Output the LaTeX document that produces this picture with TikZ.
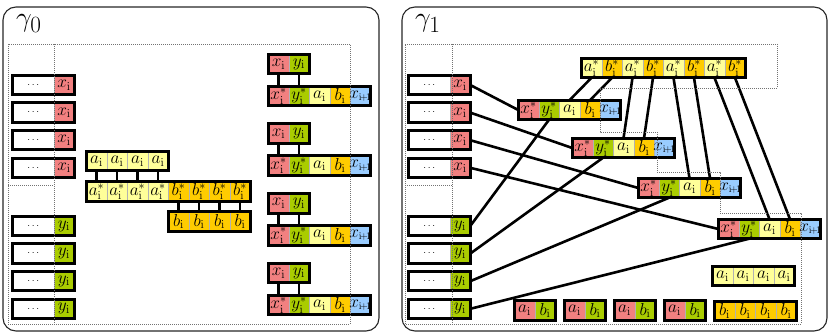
\documentclass[tikz,border=0pt]{standalone}
\usetikzlibrary{positioning,fit}

\definecolor{xred}{RGB}{242,128,128}
\definecolor{ygreen}{RGB}{170,204,0}
\definecolor{ayellow}{RGB}{255,255,153}
\definecolor{borange}{RGB}{255,204,0}
\definecolor{xblue}{RGB}{153,204,255}

\newcommand{\xlab}{$x_{\mathrm{i}}$}
\newcommand{\ylab}{$y_{\mathrm{i}}$}
\newcommand{\alab}{$a_{\mathrm{i}}$}
\newcommand{\blab}{$b_{\mathrm{i}}$}
\newcommand{\xstar}{$x^{*}_{\mathrm{i}}$}
\newcommand{\ystar}{$y^{*}_{\mathrm{i}}$}
\newcommand{\astar}{$a^{*}_{\mathrm{i}}$}
\newcommand{\bstar}{$b^{*}_{\mathrm{i}}$}
\newcommand{\xnext}{$\!x_{\scriptscriptstyle\mathrm{i}\!+\!1}\!$}

\begin{document}
\begin{tikzpicture}[
    x=1pt,y=-1pt,
    panel/.style={draw=black!85,line width=1.1pt,rounded corners=13pt},
    region/.style={draw=black!55,line width=0.7pt,dash pattern=on 1pt off 1pt},
    cell/.style={draw=black!30,line width=0.4pt,minimum width=20.5pt,
      minimum height=19.5pt,inner sep=0pt,outer sep=0pt,
      font=\LARGE},
    dotcell/.style={cell,fill=white,minimum width=41pt,font=\normalsize},
    frame/.style={draw,line width=3pt,inner sep=0pt},
    strut/.style={line width=2.8pt},
    wire/.style={line width=2.6pt},
    tag/.style={font=\Huge,scale=1.12,transform shape,inner sep=0pt,anchor=base west}
]
\useasboundingbox (0,0) rectangle (830,336);

\draw[panel] (3,7) rectangle (379,331);
\draw[panel] (402,7) rectangle (827,331);
\node[tag] (g0) at (16,27) {$\gamma_0$};
\node[tag] (g1) at (415,27) {$\gamma_1$};

% input columns of both panels
\foreach \p/\ox in {l/0,r/396} {
  \foreach \i in {1,...,4} {
    \pgfmathsetmacro\yx{85+27.6*(\i-1)}
    \pgfmathsetmacro\yy{226+27.6*(\i-1)}
    \node[dotcell] (\p xd\i) at (33.25+\ox,\yx) {$\cdots$};
    \node[cell,fill=xred,right=0pt of \p xd\i] (\p x\i) {\xlab};
    \node[frame,fit=(\p xd\i)(\p x\i)] {};
    \node[dotcell] (\p yd\i) at (33.25+\ox,\yy) {$\cdots$};
    \node[cell,fill=ygreen,right=0pt of \p yd\i] (\p y\i) {\ylab};
    \node[frame,fit=(\p yd\i)(\p y\i)] {};
  }
}

% gamma_0: a / a* b* / b stack
\foreach \j in {1,...,4} {
  \node[cell,fill=ayellow] (la\j) at (96.5+20.5*\j-20.5,161) {\alab};
  \node[cell,fill=ayellow] (lsa\j) at (96.5+20.5*\j-20.5,191.5) {\astar};
  \node[cell,fill=borange] (lsb\j) at (178.5+20.5*\j-20.5,191.5) {\bstar};
  \node[cell,fill=borange] (lb\j) at (178.5+20.5*\j-20.5,221.5) {\blab};
  \draw[strut] (la\j.south) -- (lsa\j.north);
  \draw[strut] (lsb\j.south) -- (lb\j.north);
}
\node[frame,fit=(la1)(la4)] {};
\node[frame,fit=(lsa1)(lsb4)] {};
\node[frame,fit=(lb1)(lb4)] {};

% gamma_0: x y pairs over result rows
\foreach \k in {1,...,4} {
  \pgfmathsetmacro\yt{64+69.7*(\k-1)}
  \pgfmathsetmacro\yr{96+69.7*(\k-1)}
  \node[cell,fill=xred] (lpx\k) at (278.5,\yt) {\xlab};
  \node[cell,fill=ygreen,right=0pt of lpx\k] (lpy\k) {\ylab};
  \node[cell,fill=xred] (lqx\k) at (278.5,\yr) {\xstar};
  \node[cell,fill=ygreen,right=0pt of lqx\k] (lqy\k) {\ystar};
  \node[cell,fill=ayellow,right=0pt of lqy\k] (lqa\k) {\alab};
  \node[cell,fill=borange,right=0pt of lqa\k] (lqb\k) {\blab};
  \node[cell,fill=xblue,right=0pt of lqb\k] (lqn\k) {\xnext};
  \draw[strut] (lpx\k.south) -- (lqx\k.north);
  \draw[strut] (lpy\k.south) -- (lqy\k.north);
  \node[frame,fit=(lpx\k)(lpy\k)] {};
  \node[frame,fit=(lqx\k)(lqn\k)] {};
}

% gamma_1: star row
\foreach \j in {1,...,4} {
  \node[cell,fill=ayellow] (rsa\j) at (591.5+41*\j-41,68) {\astar};
  \node[cell,fill=borange,right=0pt of rsa\j] (rsb\j) {\bstar};
}

% gamma_1: result rows
\foreach \k/\rx/\ry in {1/528.5/110,2/582.5/148,3/648.5/188,4/728.5/229} {
  \node[cell,fill=xred] (rqx\k) at (\rx,\ry) {\xstar};
  \node[cell,fill=ygreen,right=0pt of rqx\k] (rqy\k) {\ystar};
  \node[cell,fill=ayellow,right=0pt of rqy\k] (rqa\k) {\alab};
  \node[cell,fill=borange,right=0pt of rqa\k] (rqb\k) {\blab};
  \node[cell,fill=xblue,right=0pt of rqb\k] (rqn\k) {\xnext};
}

% gamma_1: leftover pairs and rows
\foreach \j in {1,...,4} {
  \node[cell,fill=xred] (rda\j) at (524.5+50*\j-50,310.5) {\alab};
  \node[cell,fill=ygreen,right=0pt of rda\j] (rdb\j) {\blab};
  \node[frame,fit=(rda\j)(rdb\j)] {};
  \node[cell,fill=ayellow] (rfa\j) at (722.5+20.5*\j-20.5,276) {\alab};
  \node[cell,fill=borange] (rfb\j) at (724.5+20.5*\j-20.5,311) {\blab};
}
\node[frame,fit=(rfa1)(rfa4)] {};
\node[frame,fit=(rfb1)(rfb4)] {};

% gamma_1: wiring
\foreach \k in {1,...,4} {
  \draw[wire] (rx\k.east) -- (rqx\k.west);
  \draw[wire] (ry\k.east) -- (rqy\k.south);
  \draw[wire] (rsa\k.south) -- (rqa\k.north);
  \draw[wire] (rsb\k.south) -- (rqb\k.north);
  \node[frame,fit=(rqx\k)(rqn\k)] {};
}
\node[frame,fit=(rsa1)(rsb4)] {};

% dotted regions
\draw[region] (8,44) rectangle (350,324);
\draw[region] (54,44) -- (54,324);
\draw[region] (8,185) -- (54,185);
\draw[region] (405,44) -- (777,44) -- (777,88) -- (600,88) -- (600,132)
  -- (657,132) -- (657,172) -- (720,172) -- (720,213) -- (801,213)
  -- (801,324) -- (405,324) -- cycle;
\draw[region] (452,44) -- (452,324);
\draw[region] (405,185) -- (452,185);
\end{tikzpicture}
\end{document}
